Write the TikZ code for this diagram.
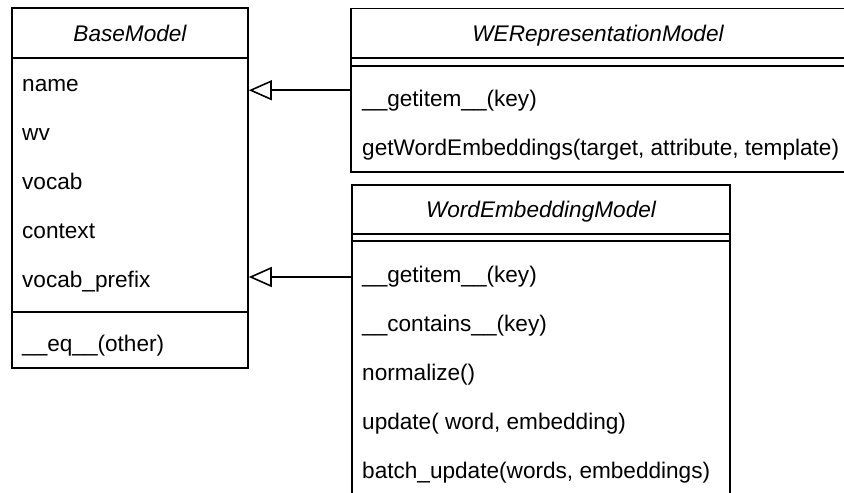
\documentclass[tikz,border=0pt]{standalone}
\usepackage{fontspec}
\setmainfont{Liberation Sans}
\usetikzlibrary{arrows.meta}
\tikzset{
  classbox/.style={draw=black, line width=1.6pt, rectangle, inner sep=0pt, fill=white},
  sepline/.style={draw=black, line width=1.6pt},
  title/.style={anchor=base, inner sep=0pt, font=\fontsize{22.6}{27}\selectfont\itshape, text=black},
  member/.style={anchor=base west, inner sep=0pt, font=\fontsize{22.6}{27}\selectfont, text=black},
  inherit/.style={draw=black, line width=1.6pt, -{Triangle[open, length=23pt, width=20pt, line width=1.6pt]}},
}
\begin{document}
\begin{tikzpicture}[x=1pt, y=1pt]
\useasboundingbox (0,0) rectangle (844,-493);
% class boxes
\node[classbox, minimum width=236pt, minimum height=360pt] (base) at (130,-188) {};
\node[classbox, minimum width=494pt, minimum height=163.5pt] (werep) at (598,-90.25) {};
\node[classbox, minimum width=378pt, minimum height=311pt] (we) at (541,-340.5) {};
% separator lines
\draw[sepline] (base.west |- 0,-58) -- (base.east |- 0,-58);
\draw[sepline] (base.west |- 0,-312) -- (base.east |- 0,-312);
\draw[sepline] (werep.west |- 0,-58) -- (werep.east |- 0,-58);
\draw[sepline] (werep.west |- 0,-66) -- (werep.east |- 0,-66);
\draw[sepline] (we.west |- 0,-234) -- (we.east |- 0,-234);
\draw[sepline] (we.west |- 0,-241) -- (we.east |- 0,-241);
% titles
\node[title] (basetitle) at (130,-41) {BaseModel};
\node[title] (wereptitle) at (598,-41) {WERepresentationModel};
\node[title] (wetitle) at (541,-217.5) {WordEmbeddingModel};
% BaseModel members
\node[member] (bname) at (22,-91) {name};
\node[member] (bwv) at (22,-140) {wv};
\node[member] (bvocab) at (22,-189) {vocab};
\node[member] (bcontext) at (22,-238) {context};
\node[member] (bprefix) at (22,-287) {vocab\_prefix};
\node[member] (beq) at (22,-351) {\_\_eq\_\_(other)};
% WERepresentationModel members
\node[member] (rget) at (362,-106) {\_\_getitem\_\_(key)};
\node[member] (rwe) at (362,-155) {getWordEmbeddings(target, attribute, template)};
% WordEmbeddingModel members
\node[member] (wget) at (362,-282) {\_\_getitem\_\_(key)};
\node[member] (wcont) at (362,-331) {\_\_contains\_\_(key)};
\node[member] (wnorm) at (362,-380) {normalize()};
\node[member] (wupd) at (362,-429) {update( word, embedding)};
\node[member] (wbatch) at (362,-478) {batch\_update(words, embeddings)};
% inheritance connectors
\coordinate (a2) at (300,-277);
\draw[inherit] (werep.west) -- (base.east |- werep.west);
\draw[inherit] (we.west |- a2) -- (base.east |- a2);
\end{tikzpicture}
\end{document}
